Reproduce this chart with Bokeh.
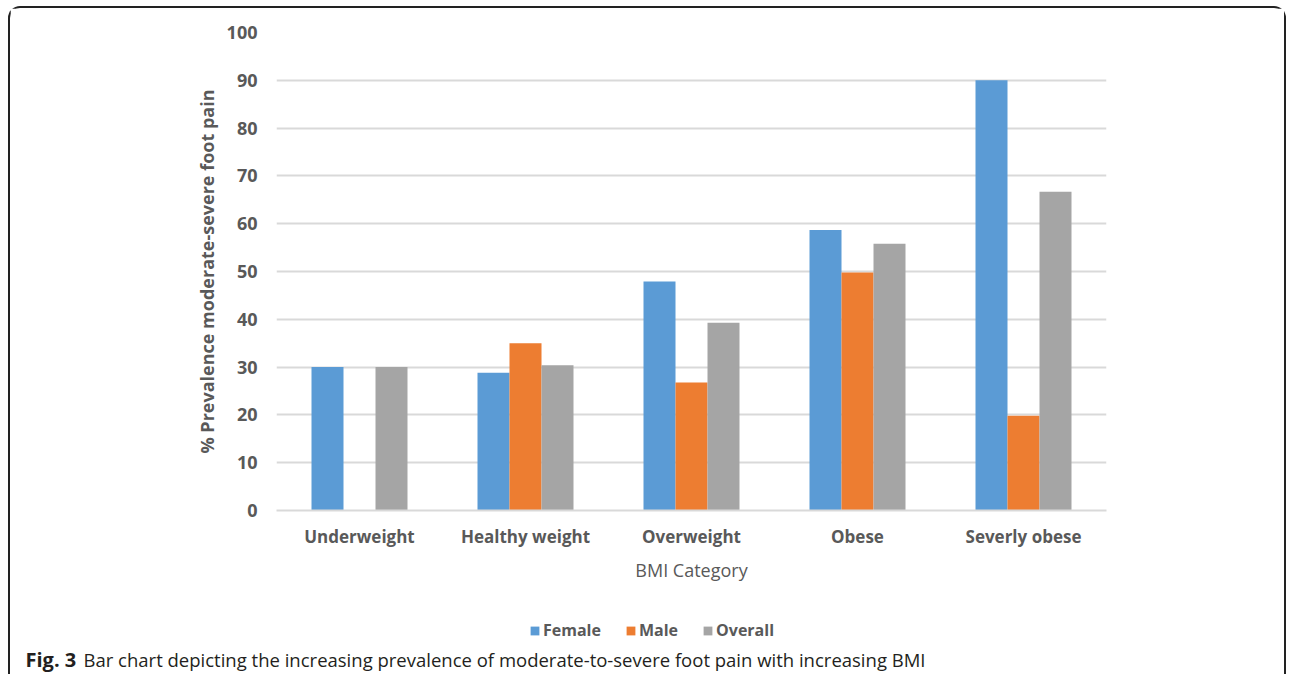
from bokeh.plotting import figure
from bokeh.models import (ColumnDataSource, FactorRange, Range1d, Legend, Label,
                          LegendItem, SingleIntervalTicker)
from bokeh.transform import dodge
from bokeh.embed import file_html
from bokeh.resources import INLINE

categories = ["Underweight", "Healthy weight", "Overweight", "Obese", "Severly obese"]
female = [30, 28.8, 47.9, 58.7, 90]
male = [0, 35, 26.8, 49.8, 19.8]
overall = [30, 30.4, 39.3, 55.8, 66.7]
series_names = ["Female", "Male", "Overall"]
series_colors = ["#5B9BD5", "#ED7D31", "#A5A5A5"]
caption_bold = "Fig. 3"
caption_text = "Bar chart depicting the increasing prevalence of moderate-to-severe foot pain with increasing BMI"

FONT = "Open Sans"
TXT = "#595959"

src = ColumnDataSource(dict(cat=categories, Female=female, Male=male, Overall=overall))

OX, OY = 10, 8          # content origin in page pixels
W = 1278
SPLIT = 598             # page y where the caption strip starts
H1 = SPLIT - OY
FL, FR, FT, FB = 276, 1106, 32, 510  # plot frame edges in page pixels
BORDER = "2px solid #222"

p = figure(x_range=FactorRange(*categories), y_range=Range1d(0, 100),
           width=W, height=H1, output_backend="svg", toolbar_location=None,
           min_border_left=FL - OX, min_border_right=W - (FR - OX),
           min_border_top=FT - OY, min_border_bottom=H1 - (FB - OY))
p.outline_line_color = None
p.border_fill_color = "white"
p.styles = {"border-top": BORDER, "border-left": BORDER, "border-right": BORDER,
            "border-radius": "12px 12px 0 0", "margin-left": "8px", "margin-top": "6px"}

bw = 32 / 166
for i, (name, col) in enumerate(zip(series_names, series_colors)):
    p.vbar(x=dodge("cat", (i - 1) * bw, range=p.x_range), top=name, width=bw,
           source=src, fill_color=col, line_color=None)

p.yaxis.ticker = SingleIntervalTicker(interval=10)
p.yaxis.axis_line_color = None
p.yaxis.major_tick_line_color = None
p.yaxis.minor_tick_line_color = None
p.yaxis.major_label_standoff = 13
p.yaxis.major_label_text_font = FONT
p.yaxis.major_label_text_font_size = "18px"
p.yaxis.major_label_text_font_style = "bold"
p.yaxis.major_label_text_color = TXT
p.yaxis.axis_label = "% Prevalence moderate-severe foot pain"
p.yaxis.axis_label_text_font = FONT
p.yaxis.axis_label_text_font_size = "18px"
p.yaxis.axis_label_text_font_style = "bold"
p.yaxis.axis_label_text_color = TXT
p.yaxis.axis_label_standoff = 5

p.xaxis.axis_line_color = "#D9D9D9"
p.xaxis.axis_line_width = 2
p.xaxis.major_tick_line_color = None
p.xaxis.minor_tick_line_color = None
p.xaxis.major_label_standoff = 8
p.xaxis.major_label_text_font = FONT
p.xaxis.major_label_text_font_size = "17px"
p.xaxis.major_label_text_font_style = "bold"
p.xaxis.major_label_text_color = TXT
p.xaxis.axis_label = "BMI Category"
p.xaxis.axis_label_text_font = FONT
p.xaxis.axis_label_text_font_size = "18px"
p.xaxis.axis_label_text_font_style = "normal"
p.xaxis.axis_label_text_color = TXT
p.xaxis.axis_label_standoff = 7

p.xgrid.grid_line_color = None
p.ygrid.grid_line_color = "#D9D9D9"
p.ygrid.grid_line_width = 2

# caption strip with legend
HC = 676 - SPLIT
cap = figure(x_range=Range1d(0, W), y_range=Range1d(0, HC), width=W, height=HC,
             output_backend="svg", toolbar_location=None, min_border=0,
             x_axis_location=None, y_axis_location=None)
cap.outline_line_color = None
cap.xgrid.visible = False
cap.ygrid.visible = False
cap.styles = {"border-left": BORDER, "border-right": BORDER, "margin-left": "8px"}

# zero-size proxy glyphs that only supply the legend swatches
proxies = [cap.vbar(x=[0], top=[0], width=0, fill_color=c, line_color=None) for c in series_colors]
legend = Legend(items=[LegendItem(label=n, renderers=[r]) for n, r in zip(series_names, proxies)],
                orientation="horizontal", location=(529 - OX, HC - (643 - SPLIT)),
                glyph_width=11, glyph_height=11, label_standoff=3, spacing=24,
                padding=0, margin=0, border_line_color=None, background_fill_alpha=0,
                label_text_font=FONT, label_text_font_size="16px",
                label_text_font_style="bold", label_text_color=TXT)
cap.add_layout(legend, "center")

cy = HC - (661 - SPLIT)
cap.add_layout(Label(x=25 - OX, y=cy, text=caption_bold, text_font=FONT,
                     text_font_style="bold", text_font_size="20px", text_color="#231F20",
                     text_baseline="middle"))
cap.add_layout(Label(x=83 - OX, y=cy, text=caption_text, text_font=FONT,
                     text_font_size="18.5px", text_color="#231F20", text_baseline="middle"))

open("out.html", "w").write(file_html([p, cap], INLINE))
